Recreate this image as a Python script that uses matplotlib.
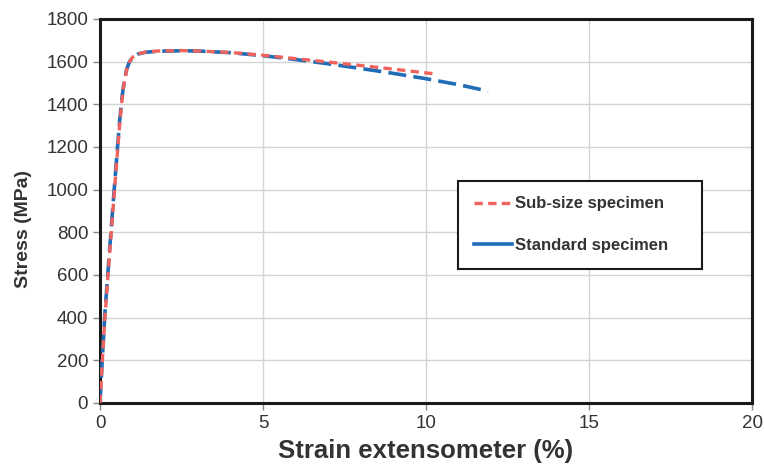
import matplotlib
matplotlib.use("Agg")
from matplotlib import pyplot as plt

# strain (%) and stress (MPa)
std_strain = [0, 0.05, 0.15, 0.3, 0.45, 0.6, 0.68, 0.75, 0.82, 0.9, 1.0, 1.15,
              1.4, 1.8, 2.5, 3.0, 4.0, 5.0, 6.0, 7.0, 8.0, 9.0, 10.0, 11.0, 11.9]
std_stress = [0, 150, 420, 730, 1030, 1320, 1440, 1515, 1565, 1598, 1620, 1635,
              1644, 1649, 1651, 1650, 1642, 1628, 1610, 1590, 1568, 1545, 1520,
              1492, 1462]

sub_strain = [0, 0.05, 0.15, 0.3, 0.45, 0.6, 0.68, 0.75, 0.82, 0.9, 1.0, 1.15,
              1.4, 1.8, 2.5, 3.0, 4.0, 5.0, 6.0, 7.0, 8.0, 9.0, 10.3]
sub_stress = [0, 140, 400, 710, 1010, 1300, 1430, 1510, 1563, 1598, 1621, 1636,
              1645, 1650, 1652, 1650, 1643, 1630, 1614, 1598, 1582, 1565, 1542]

x_ticks = [0, 5, 10, 15, 20]
y_ticks = list(range(0, 1801, 200))

plt.rcParams["font.family"] = ["Liberation Sans", "DejaVu Sans"]

fig = plt.figure(figsize=(7.64, 4.71), dpi=100)
ax = fig.add_axes([0.1309, 0.1444, 0.8534, 0.8153])

ax.plot(std_strain, std_stress, color="#1f6cb8", lw=2.6, dashes=(5, 2),
        label="Standard specimen", zorder=3)
ax.plot(sub_strain, sub_stress, color="#f0635c", lw=2.4, dashes=(2.5, 1.6),
        label="Sub-size specimen", zorder=4)

ax.set_xlim(0, 20)
ax.set_ylim(0, 1800)
ax.set_xticks(x_ticks)
ax.set_yticks(y_ticks)
ax.grid(True, color="#d4d4d4", lw=1.0)
ax.set_axisbelow(True)
for sp in ax.spines.values():
    sp.set_linewidth(2.2)
    sp.set_color("#1a1a1a")
ax.tick_params(axis="both", labelsize=13.5, color="#888888", length=5, width=1,
               labelcolor="#333333")

ax.set_xlabel("Strain extensometer (%)", fontsize=18.5, fontweight="bold",
              color="#333333", labelpad=5)
ax.set_ylabel("Stress (MPa)", fontsize=14, fontweight="bold", color="#333333")
ax.yaxis.set_label_coords(-0.104, 0.453)

# legend: sub-size first, standard shown as a solid line
h, l = ax.get_legend_handles_labels()
leg_handles = [h[1], plt.Line2D([], [], color="#1f6cb8", lw=2.6)]
leg = ax.legend(leg_handles, [l[1], l[0]], loc="lower left",
                bbox_to_anchor=(0.549, 0.349, 0.374, 0.224), mode="expand",
                fancybox=False, edgecolor="#1a1a1a", framealpha=1,
                prop={"weight": "bold", "size": 12},
                labelspacing=1.6, handlelength=2.3, handletextpad=0.15,
                borderpad=0.95, borderaxespad=0)
leg.get_frame().set_linewidth(1.5)
leg._legend_box.sep = 0
for t in leg.get_texts():
    t.set_color("#333333")

fig.savefig("out.png", dpi=100)
